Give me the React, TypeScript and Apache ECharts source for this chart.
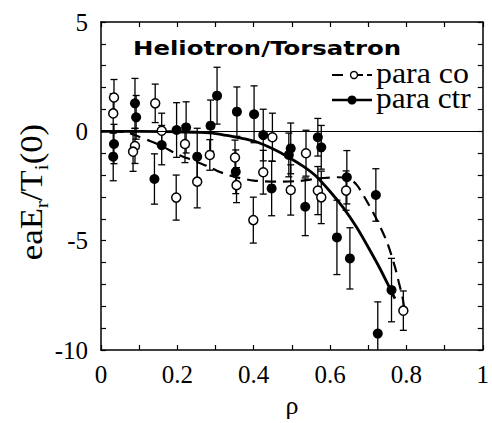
import React, { useEffect, useRef } from "react";
import * as echarts from "echarts";

// ---- data ----
const coX = [0.034, 0.032, 0.089, 0.084, 0.142, 0.159, 0.197, 0.22, 0.252, 0.285, 0.351, 0.355, 0.399, 0.425, 0.449, 0.497, 0.537, 0.568, 0.577, 0.642, 0.792];
const coY = [1.55, 0.82, -0.67, -0.93, 1.28, 0.03, -3.03, -0.58, -2.3, -1.08, -1.2, -2.46, -4.06, -1.87, -0.27, -2.68, -1.0, -2.71, -3.02, -2.71, -8.2];
const coErr = [0.82, 0.9, 0.8, 0.9, 0.88, 0.8, 1.03, 0.85, 1.2, 0.7, 0.8, 0.8, 1.05, 1.0, 1.1, 1.15, 1.05, 1.1, 1.2, 0.9, 0.9];

const ctrX = [0.034, 0.032, 0.089, 0.092, 0.14, 0.159, 0.198, 0.223, 0.252, 0.287, 0.304, 0.353, 0.356, 0.401, 0.425, 0.447, 0.497, 0.492, 0.535, 0.568, 0.577, 0.618, 0.652, 0.644, 0.72, 0.761, 0.725];
const ctrY = [-0.58, -1.16, 1.28, 0.64, -2.18, -0.63, 0.06, 0.18, -1.16, 0.26, 1.63, -1.85, 0.9, 0.78, -0.17, -2.61, -0.78, -1.08, -3.45, -0.27, -0.73, -4.85, -5.81, -2.1, -2.91, -7.26, -9.25];
const ctrErr = [0.9, 1.1, 1.14, 1.0, 1.15, 0.9, 1.25, 1.17, 1.3, 1.17, 1.3, 1.0, 1.13, 1.3, 1.18, 1.25, 1.16, 1.0, 1.32, 0.86, 1.0, 1.7, 1.4, 1.22, 1.2, 1.45, 1.45];

const coFitX = [0.03, 0.07, 0.1, 0.13, 0.16, 0.2, 0.24, 0.28, 0.31, 0.35, 0.4, 0.46, 0.52, 0.57, 0.62, 0.65, 0.67, 0.69, 0.72, 0.75, 0.77, 0.78, 0.79, 0.795];
const coFitY = [0.0, -0.05, -0.25, -0.45, -0.68, -1.05, -1.32, -1.6, -1.85, -2.08, -2.25, -2.3, -2.27, -2.15, -2.1, -2.15, -2.45, -3.0, -3.95, -5.1, -6.2, -6.9, -7.6, -8.2];

const ctrFitX = [0, 0.1, 0.2, 0.26, 0.3, 0.34, 0.38, 0.41, 0.45, 0.49, 0.53, 0.56, 0.6, 0.635, 0.67, 0.7, 0.73, 0.76, 0.77];
const ctrFitY = [0, 0, -0.02, -0.05, -0.1, -0.22, -0.36, -0.5, -0.8, -1.17, -1.6, -2.0, -2.75, -3.5, -4.4, -5.3, -6.25, -7.3, -7.65];

const xTickLabels = ["0", "0.2", "0.4", "0.6", "0.8", "1"];
const yTickLabels = ["-10", "-5", "0", "5"];

const SERIF = "Liberation Serif, Times New Roman, Tinos, serif";

const zip3 = (a: number[], b: number[], c: number[]) => a.map((v, i) => [v, b[i], c[i]]);
const zip2 = (a: number[], b: number[]) => a.map((v, i) => [v, b[i]]);

const errSeries = (data: number[][]) => ({
  type: "custom",
  clip: true,
  z: 1,
  silent: true,
  data,
  renderItem: (_p: any, api: any) => {
    const x = api.value(0);
    const y = api.value(1);
    const e = api.value(2);
    const t = api.coord([x, y + e]);
    const b = api.coord([x, y - e]);
    const hw = 3.5;
    const st = { stroke: "#000", lineWidth: 1.3 };
    return {
      type: "group",
      children: [
        { type: "line", shape: { x1: t[0], y1: t[1], x2: b[0], y2: b[1] }, style: st },
        { type: "line", shape: { x1: t[0] - hw, y1: t[1], x2: t[0] + hw, y2: t[1] }, style: st },
        { type: "line", shape: { x1: b[0] - hw, y1: b[1], x2: b[0] + hw, y2: b[1] }, style: st },
      ],
    };
  },
});

const labelRich = { t: { fontFamily: SERIF, fontSize: 25, color: "#000" } };

export default function App() {
  const ref = useRef<HTMLDivElement>(null);
  useEffect(() => {
    if (!ref.current) return;
    const chart = echarts.init(ref.current, undefined, { renderer: "svg" });
    const axisCommon = {
      axisLine: { show: true, onZero: false, lineStyle: { color: "#000", width: 1.5 } },
      axisTick: { show: true, inside: true, length: 5, lineStyle: { color: "#000", width: 1.2 } },
      splitLine: { show: false },
    };
    const option: any = {
      animation: false,
      backgroundColor: "#fff",
      textStyle: { fontFamily: SERIF },
      grid: { left: 101, right: 7, top: 22, bottom: 73 },
      xAxis: [
        {
          type: "value",
          min: 0,
          max: 1,
          interval: 0.1,
          position: "bottom",
          ...axisCommon,
          axisLabel: {
            color: "#000",
            fontFamily: SERIF,
            fontSize: 25,
            margin: 12,
            rich: labelRich,
            formatter: (v: number) => {
              const r = Math.round(v * 10);
              return r % 2 === 0 ? `{t|${xTickLabels[r / 2]}}` : "";
            },
          },
          name: "{t|ρ}",
          nameLocation: "middle",
          nameGap: 42,
          nameTextStyle: { color: "#000", fontFamily: SERIF, fontSize: 26, rich: { t: { fontFamily: SERIF, fontSize: 26, color: "#000" } } },
        },
        {
          type: "value",
          min: 0,
          max: 1,
          interval: 0.1,
          position: "top",
          ...axisCommon,
          axisLabel: { show: false },
        },
      ],
      yAxis: [
        {
          type: "value",
          min: -10,
          max: 5,
          interval: 1,
          position: "left",
          ...axisCommon,
          axisLabel: {
            color: "#000",
            fontFamily: SERIF,
            fontSize: 25,
            margin: 13,
            rich: labelRich,
            formatter: (v: number) => {
              const r = Math.round(v);
              return r % 5 === 0 ? `{t|${yTickLabels[(r + 10) / 5]}}` : "";
            },
          },
        },
        {
          type: "value",
          min: -10,
          max: 5,
          interval: 1,
          position: "right",
          ...axisCommon,
          axisLabel: { show: false },
        },
      ],
      series: [
        {
          type: "line",
          data: zip2(coFitX, coFitY),
          showSymbol: false,
          smooth: 0.25,
          lineStyle: { color: "#000", width: 2.2, type: [11, 7] },
          z: 2,
          silent: true,
          markLine: {
            silent: true,
            symbol: "none",
            label: { show: false },
            lineStyle: { color: "#000", width: 1, type: "solid" },
            data: [{ yAxis: 0 }],
          },
        },
        {
          type: "line",
          data: zip2(ctrFitX, ctrFitY),
          showSymbol: false,
          smooth: 0.3,
          lineStyle: { color: "#000", width: 2.8, type: "solid" },
          z: 2,
          silent: true,
        },
        errSeries(zip3(coX, coY, coErr)),
        errSeries(zip3(ctrX, ctrY, ctrErr)),
        {
          type: "scatter",
          data: zip2(coX, coY),
          symbol: "circle",
          symbolSize: 9,
          itemStyle: { color: "#fff", borderColor: "#000", borderWidth: 1.5, opacity: 1 },
          z: 3,
        },
        {
          type: "scatter",
          data: zip2(ctrX, ctrY),
          symbol: "circle",
          symbolSize: 10,
          itemStyle: { color: "#000", opacity: 1 },
          z: 3,
        },
      ],
      graphic: [
        {
          type: "text",
          x: 133,
          y: 48,
          scaleX: 1.22,
          style: {
            text: "Heliotron/Torsatron",
            fontFamily: "DejaVu Sans",
            fontWeight: "bold",
            fontSize: 20,
            fill: "#000",
            verticalAlign: "middle",
            align: "left",
          },
        },
        // legend row 1 (para co)
        { type: "line", shape: { x1: 332, y1: 75, x2: 343, y2: 75 }, style: { stroke: "#000", lineWidth: 2 } },
        { type: "circle", shape: { cx: 354, cy: 75, r: 3.5 }, style: { fill: "#fff", stroke: "#000", lineWidth: 1.4 } },
        { type: "line", shape: { x1: 358, y1: 75, x2: 363, y2: 75 }, style: { stroke: "#000", lineWidth: 2 } },
        { type: "line", shape: { x1: 367, y1: 75, x2: 372, y2: 75 }, style: { stroke: "#000", lineWidth: 2 } },
        {
          type: "text",
          x: 376,
          y: 73,
          scaleX: 1.1,
          style: { text: "para co", fontFamily: SERIF, fontSize: 29, fill: "#000", verticalAlign: "middle", align: "left" },
        },
        // legend row 2 (para ctr)
        { type: "line", shape: { x1: 332, y1: 100, x2: 372, y2: 100 }, style: { stroke: "#000", lineWidth: 2.4 } },
        { type: "circle", shape: { cx: 352, cy: 100, r: 4.5 }, style: { fill: "#000" } },
        {
          type: "text",
          x: 376,
          y: 98,
          scaleX: 1.08,
          style: { text: "para ctr", fontFamily: SERIF, fontSize: 29, fill: "#000", verticalAlign: "middle", align: "left" },
        },
        // y axis title
        {
          type: "text",
          x: 32,
          y: 192,
          rotation: Math.PI / 2,
          scaleX: 1.12,
          style: {
            text: "eaE{s|r}/T{s|i}(0)",
            fontFamily: SERIF,
            fontSize: 31,
            lineHeight: 38,
            fill: "#000",
            align: "center",
            verticalAlign: "middle",
            rich: {
              s: { fontFamily: SERIF, fontSize: 19, lineHeight: 19, verticalAlign: "bottom", fill: "#000" },
            },
          },
        },
      ],
    };
    chart.setOption(option);
    return () => chart.dispose();
  }, []);
  return (
    <div
      ref={ref}
      style={{ position: "fixed", left: 0, top: 0, width: 492, height: 423, background: "#fff" }}
    />
  );
}
